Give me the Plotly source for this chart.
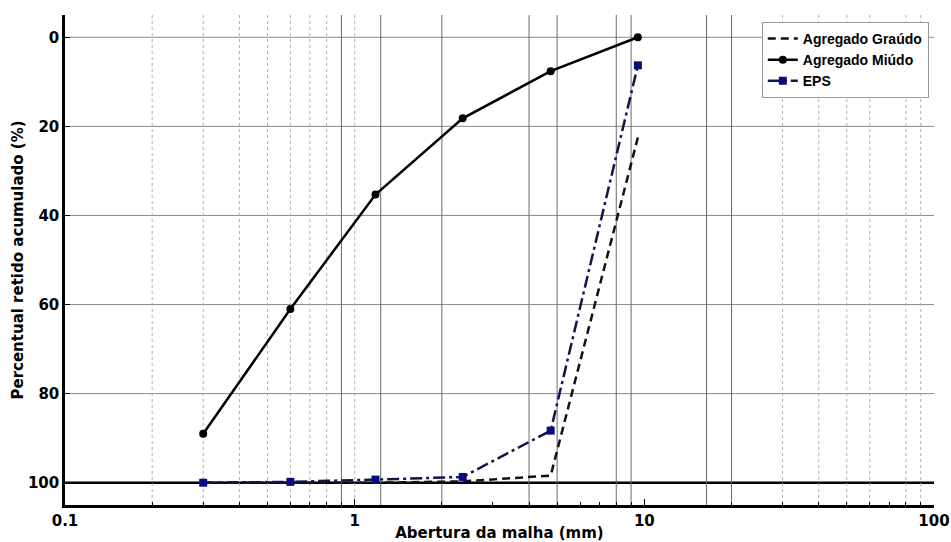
import plotly.graph_objects as go

# Data
sieves = [0.3, 0.6, 1.18, 2.36, 4.75, 9.5]
graudo = [100, 100, 100, 99.7, 98.4, 22.5]
miudo = [89.0, 61.0, 35.3, 18.2, 7.6, 0.0]
eps = [100, 99.8, 99.3, 98.7, 88.3, 6.3]

y_ticks = [0, 20, 40, 60, 80, 100]
h_grid_y = [0, 20, 40, 60, 80]

# Irregular vertical grid lines seen in the reference
solid_grid_x = [0.9, 1.23, 2, 4, 5, 8, 9, 16.4, 20]
dotted_grid_x = [0.2, 0.3, 0.4, 0.5, 0.6, 0.7, 0.8, 1, 30, 40, 50, 60, 80, 90]

FONT = "DejaVu Sans"
LEG_FONT = "Liberation Sans"

fig = go.Figure()

for gx in dotted_grid_x:
    fig.add_trace(go.Scatter(x=[gx, gx], y=[-5, 105], mode="lines",
                             line=dict(color="#b0b0b0", width=1, dash="dot"),
                             showlegend=False, hoverinfo="skip"))
for gx in solid_grid_x:
    fig.add_trace(go.Scatter(x=[gx, gx], y=[-5, 105], mode="lines",
                             line=dict(color="#6a6a6a", width=1),
                             showlegend=False, hoverinfo="skip"))

for gy in h_grid_y:
    fig.add_hline(y=gy, line=dict(color="#8a8a8a", width=1), layer="below")
fig.add_hline(y=100, line=dict(color="black", width=2.5), layer="below")

fig.add_trace(go.Scatter(x=sieves, y=graudo, mode="lines", name="Agregado Graúdo",
                         line=dict(color="#111111", width=2.5, dash="8px,5px")))
fig.add_trace(go.Scatter(x=sieves, y=miudo, mode="lines+markers", name="Agregado Miúdo",
                         line=dict(color="black", width=2.5),
                         marker=dict(symbol="circle", size=8, color="black")))
fig.add_trace(go.Scatter(x=sieves, y=eps, mode="lines+markers", name="EPS",
                         line=dict(color="#14144a", width=2.5, dash="12px,4px,3px,4px"),
                         marker=dict(symbol="square", size=8, color="#0a0a80")))

fig.update_layout(
    width=951, height=542,
    margin=dict(l=65, r=17, t=15, b=37),
    plot_bgcolor="white", paper_bgcolor="white",
    font=dict(family=FONT, size=14, color="black"),
    legend=dict(x=0.994, y=0.986, xanchor="right", yanchor="top",
                bordercolor="#9a9a9a", borderwidth=1, bgcolor="white",
                font=dict(family=LEG_FONT, size=14, weight="bold"),
                itemwidth=30, tracegroupgap=0),
)

fig.update_xaxes(
    type="log", range=[-1, 2], dtick=1,
    tickfont=dict(family=FONT, size=15, weight="bold"),
    ticks="inside", ticklen=6, tickcolor="black",
    minor=dict(dtick="D1", ticks="inside", ticklen=3, tickcolor="black", showgrid=False),
    showgrid=False, zeroline=False, automargin=False,
    showline=True, linecolor="black", linewidth=2.5,
    title=dict(text="Abertura da malha (mm)", standoff=4,
               font=dict(family=FONT, size=15, weight="bold")),
)
fig.update_yaxes(
    range=[105, -5],
    tickvals=y_ticks,
    tickfont=dict(family=FONT, size=15, weight="bold"),
    ticks="inside", ticklen=5, tickcolor="black",
    showgrid=False,
    zeroline=False, automargin=False,
    showline=True, linecolor="black", linewidth=2.5,
    title=dict(text="Percentual retido acumulado (%)", standoff=1,
               font=dict(family=FONT, size=15, weight="bold")),
)

fig.write_html("out.html", config={"displayModeBar": False},
               post_script="document.body.style.margin='0';")
